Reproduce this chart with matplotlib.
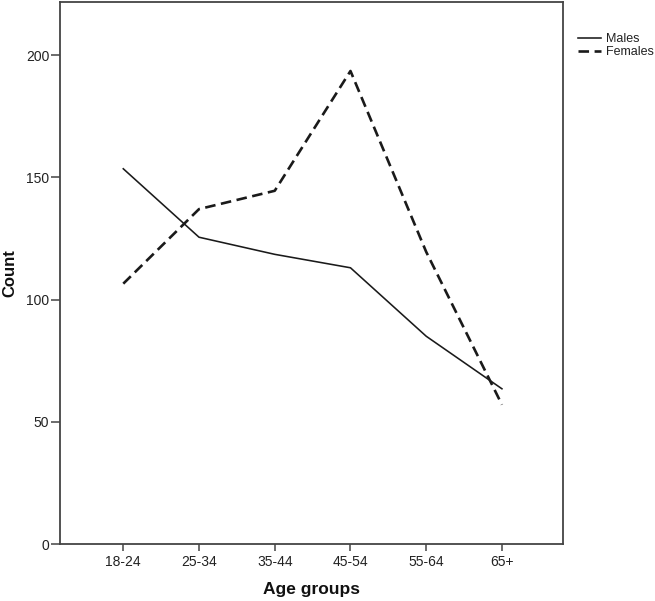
import matplotlib
matplotlib.use("Agg")
import matplotlib.pyplot as plt

plt.rcParams['font.family'] = ['Liberation Sans', 'DejaVu Sans']

categories = ["18-24", "25-34", "35-44", "45-54", "55-64", "65+"]
males = [153.5, 125.5, 118.5, 113, 85, 63.5]
females = [106.5, 137, 144.5, 193.5, 119.5, 57]
y_ticks = [0, 50, 100, 150, 200]

fig = plt.figure(figsize=(6.55, 6.01), dpi=100)
ax = fig.add_axes([0.0911, 0.0948, 0.7677, 0.9018])

x = list(range(len(categories)))
ax.plot(x, males, color='#1a1a1a', lw=1.15, label='Males')
ax.plot(x, females, color='#1a1a1a', lw=1.9, dashes=(4.0, 2.1), label='Females')

ax.set_xlim(-0.84, 5.8)
ax.set_ylim(0, 221.7)
ax.set_xticks(x)
ax.set_xticklabels(categories, fontsize=10, color='#222222')
ax.set_yticks(y_ticks)
ax.set_yticklabels([str(v) for v in y_ticks], fontsize=10, color='#222222')
ax.tick_params(axis='x', direction='out', length=5, width=1.1, color='#444444', pad=3)
ax.tick_params(axis='y', direction='out', length=6.5, width=1.1, color='#444444', pad=1)
for s in ax.spines.values():
    s.set_color('#444444')
    s.set_linewidth(1.3)

ax.set_xlabel('Age groups', fontsize=12.5, fontweight='bold', labelpad=9, color='#111111')
ax.set_ylabel('Count', fontsize=12, fontweight='bold', color='#111111')
ax.yaxis.set_label_coords(-0.084, 0.5)

leg = ax.legend(loc='upper left', bbox_to_anchor=(578 / 655, 1 - 33 / 601),
                bbox_transform=fig.transFigure, frameon=False,
                fontsize=9, handlelength=1.85, handletextpad=0.4, borderaxespad=0,
                borderpad=0, labelspacing=0.1, handleheight=0.5)
for t in leg.get_texts():
    t.set_color('#222222')

fig.savefig('out.png', dpi=100)
